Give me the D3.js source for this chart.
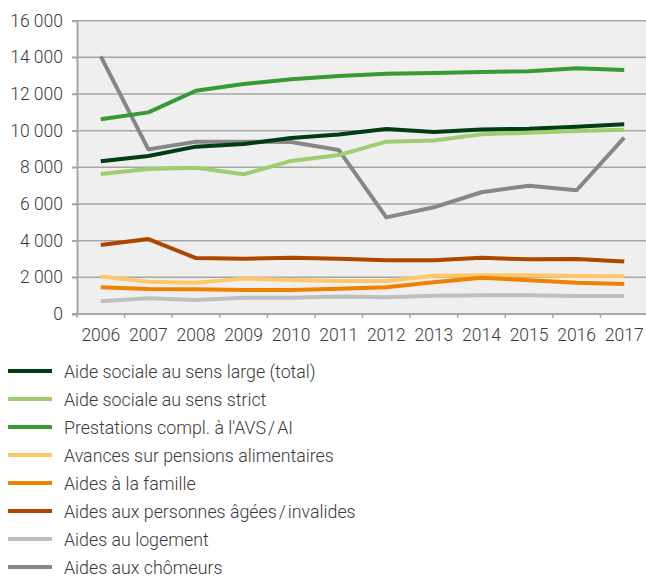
<!DOCTYPE html>
<html>
<head>
<meta charset="utf-8">
<script src="https://cdn.jsdelivr.net/npm/d3@7"></script>
<style>
  html, body { margin: 0; padding: 0; background: #ffffff; }
  svg { display: block; font-family: Roboto, "Noto Sans", sans-serif; }
  text { fill: #3a3a3a; font-weight: 300; }
</style>
</head>
<body>
<svg id="chart" width="646" height="579"></svg>
<script>
// Years on the category axis
const years = ["2006","2007","2008","2009","2010","2011","2012","2013","2014","2015","2016","2017"];

// Value ticks of the vertical axis
const yTicks = [0, 2000, 4000, 6000, 8000, 10000, 12000, 14000, 16000];

// Series names (legend order)
const seriesNames = [
  "Aide sociale au sens large (total)",
  "Aide sociale au sens strict",
  "Prestations compl. à l'AVS/AI",
  "Avances sur pensions alimentaires",
  "Aides à la famille",
  "Aides aux personnes âgées/invalides",
  "Aides au logement",
  "Aides aux chômeurs"
];

// Series colours
const seriesColors = ["#003d10", "#9fcd6f", "#369b34", "#fec868", "#f08100", "#ad4700", "#bfbfbf", "#878787"];

// Values per series, 2006–2017
const totalLarge   = [8330, 8620, 9130, 9270, 9600, 9790, 10090, 9930, 10070, 10110, 10220, 10350];
const strict       = [7640, 7910, 7980, 7620, 8350, 8670, 9400, 9470, 9800, 9890, 9980, 10050];
const prestations  = [10620, 11000, 12180, 12550, 12800, 12980, 13110, 13150, 13200, 13240, 13400, 13310];
const avances      = [2040, 1760, 1710, 1930, 1850, 1800, 1800, 2090, 2110, 2110, 2070, 2060];
const famille      = [1460, 1360, 1350, 1310, 1310, 1380, 1460, 1730, 1980, 1840, 1710, 1640];
const agees        = [3760, 4090, 3050, 3020, 3070, 3020, 2930, 2930, 3070, 2980, 3000, 2870];
const logement     = [690, 860, 760, 890, 890, 960, 910, 1000, 1020, 1020, 980, 980];
const chomeurs     = [14050, 8980, 9400, 9400, 9380, 8950, 5270, 5820, 6640, 7000, 6750, 9620];

const seriesValues = [totalLarge, strict, prestations, avances, famille, agees, logement, chomeurs];

const svg = d3.select("#chart");

const x = d3.scaleBand().domain(years).range([77, 648]);
const y = d3.scaleLinear().domain([0, 16000]).range([314, 20.7]);

const fmt = d3.formatLocale({ decimal: ",", thousands: " ", grouping: [3], currency: ["", ""] }).format(",d");

// Plot background
svg.append("rect")
  .attr("x", x.range()[0]).attr("y", y(16000))
  .attr("width", x.range()[1] - x.range()[0]).attr("height", y(0) - y(16000))
  .attr("fill", "#efefef");

// Horizontal grid
svg.append("g").selectAll("line").data(yTicks.filter(d => d > 0)).join("line")
  .attr("x1", 72).attr("x2", 648)
  .attr("y1", d => y(d)).attr("y2", d => y(d))
  .attr("stroke", "#a6a6a6").attr("stroke-width", 1.5);

// Vertical axis
const yAxis = d3.axisLeft(y).tickValues(yTicks).tickFormat(fmt).tickSize(5).tickPadding(9);
const gy = svg.append("g").attr("transform", `translate(${x.range()[0]},0)`).call(yAxis);
gy.select(".domain").attr("stroke", "#a6a6a6").attr("stroke-width", 2);
gy.selectAll(".tick line").attr("stroke", "#a6a6a6").attr("stroke-width", 1.5);
gy.selectAll(".tick text").attr("font-size", 17.5).attr("fill", "#3a3a3a")
  .attr("font-family", "Roboto, sans-serif").attr("font-weight", 300);

// Category axis
const boundaries = years.map(d => x(d)).concat([x.range()[1]]);
const gx = svg.append("g");
gx.append("line")
  .attr("x1", x.range()[0] - 5).attr("x2", 648)
  .attr("y1", y(0)).attr("y2", y(0))
  .attr("stroke", "#a6a6a6").attr("stroke-width", 2);
gx.selectAll("line.tk").data(boundaries).join("line").attr("class", "tk")
  .attr("x1", d => d).attr("x2", d => d)
  .attr("y1", y(0)).attr("y2", y(0) + 4)
  .attr("stroke", "#a6a6a6").attr("stroke-width", 1.5);
gx.selectAll("text").data(years).join("text")
  .attr("x", d => x(d) + x.bandwidth() / 2)
  .attr("y", 341)
  .attr("text-anchor", "middle")
  .attr("font-size", 17.5)
  .text(d => d);

// Series lines; the unemployment series sits underneath the others
const line = d3.line()
  .x((d, i) => x(years[i]) + x.bandwidth() / 2)
  .y(d => y(d));

const drawOrder = [7, 0, 1, 2, 3, 4, 5, 6];
svg.append("g").selectAll("path").data(drawOrder).join("path")
  .attr("d", i => line(seriesValues[i]))
  .attr("fill", "none")
  .attr("stroke", i => seriesColors[i])
  .attr("stroke-width", 4)
  .attr("stroke-linejoin", "round");

// Legend
const legend = svg.append("g").selectAll("g").data(seriesNames).join("g")
  .attr("transform", (d, i) => `translate(0,${371 + i * 28})`);
legend.append("line")
  .attr("x1", 8).attr("x2", 52).attr("y1", 0).attr("y2", 0)
  .attr("stroke", (d, i) => seriesColors[i]).attr("stroke-width", 4);
// Slashes get a little breathing room on each side
legend.append("text")
  .attr("x", 64).attr("y", 6.5)
  .attr("font-size", 17.8)
  .each(function(d) {
    const t = d3.select(this);
    const parts = d.split("/");
    parts.forEach((p, k) => {
      if (k > 0) t.append("tspan").attr("dx", 2).text("/");
      t.append("tspan").attr("dx", k > 0 ? 2 : 0).text(p);
    });
  });
</script>
</body>
</html>
